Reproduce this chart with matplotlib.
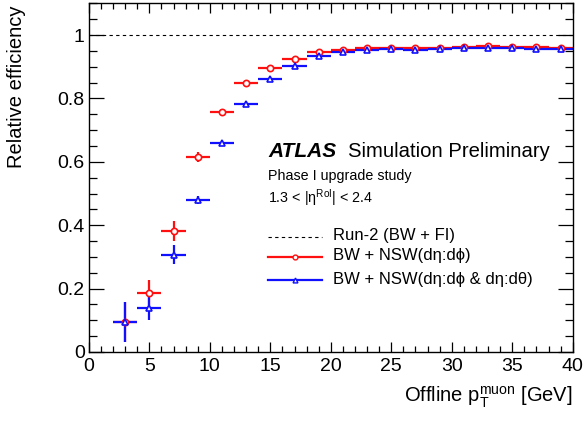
import numpy as np
import matplotlib.pyplot as plt
from matplotlib.ticker import MultipleLocator, FormatStrFormatter

plt.rcParams['font.family'] = ['Liberation Sans', 'DejaVu Sans']
plt.rcParams['mathtext.fontset'] = 'custom'
plt.rcParams['mathtext.rm'] = 'Liberation Sans'
plt.rcParams['mathtext.it'] = 'Liberation Sans:italic'

# bin centres (GeV), bin half width
pt = [3, 5, 7, 9, 11, 13, 15, 17, 19, 21, 23, 25, 27, 29, 31, 33, 35, 37, 39]
pt_err = 1.0

eff_nsw = [0.095, 0.187, 0.382, 0.614, 0.758, 0.849, 0.896, 0.926, 0.947, 0.954,
           0.960, 0.959, 0.958, 0.960, 0.962, 0.964, 0.961, 0.961, 0.960]
err_nsw = [0.063, 0.040, 0.032, 0.016, 0.008, 0.006, 0.005, 0.004, 0.004, 0.003,
           0.003, 0.003, 0.003, 0.003, 0.003, 0.003, 0.003, 0.003, 0.003]

eff_nsw_th = [0.095, 0.138, 0.306, 0.479, 0.658, 0.783, 0.862, 0.903, 0.935, 0.945,
              0.954, 0.955, 0.953, 0.956, 0.958, 0.960, 0.958, 0.957, 0.957]
err_nsw_th = [0.063, 0.036, 0.030, 0.013, 0.008, 0.006, 0.005, 0.004, 0.004, 0.003,
              0.003, 0.003, 0.003, 0.003, 0.003, 0.003, 0.003, 0.003, 0.003]

run2_level = 1.0

fig = plt.figure(figsize=(5.85, 4.22), dpi=100)
ax = fig.add_axes([0.152, 0.166, 0.827, 0.826])

ax.plot([0, 40], [run2_level, run2_level], color='black', ls=(0, (3, 3)), lw=0.8)

ax.errorbar(pt, eff_nsw, xerr=pt_err, yerr=err_nsw, fmt='o', color='#ff1010',
            mfc='white', mec='#ff1010', ms=4.5, mew=1.2, elinewidth=1.6, capsize=0)
ax.errorbar(pt, eff_nsw_th, xerr=pt_err, yerr=err_nsw_th, fmt='^', color='#1010ff',
            mfc='white', mec='#1010ff', ms=4.5, mew=1.2, elinewidth=1.6, capsize=0)

ax.set_xlim(0, 40)
ax.set_ylim(0, 1.1)
ax.xaxis.set_major_locator(MultipleLocator(5))
ax.xaxis.set_minor_locator(MultipleLocator(1))
ax.yaxis.set_major_locator(MultipleLocator(0.2))
ax.yaxis.set_minor_locator(MultipleLocator(0.05))
ax.yaxis.set_major_formatter(FormatStrFormatter('%g'))
ax.tick_params(which='both', direction='in', top=True, right=True, labelsize=14)
ax.tick_params(axis='y', which='major', length=11, width=0.9, pad=3)
ax.tick_params(axis='y', which='minor', length=5.5, width=0.9)
ax.tick_params(axis='x', which='major', length=7.5, width=0.9, pad=4.5)
ax.tick_params(axis='x', which='minor', length=4, width=0.9)
for s in ax.spines.values():
    s.set_linewidth(1.0)

ax.set_xlabel(r'Offline p$_{\mathrm{T}}^{\mathrm{muon}}$ [GeV]', loc='right', fontsize=14.5)
ax.set_ylabel('Relative efficiency', loc='top', fontsize=14.5)
ax.xaxis.set_label_coords(1.0, -0.093)
ax.yaxis.set_label_coords(-0.131, 0.995)

tx = 0.370
ax.text(tx, 0.560, 'ATLAS', transform=ax.transAxes, fontsize=15,
        fontweight='bold', fontstyle='italic')
ax.text(0.535, 0.560, 'Simulation Preliminary', transform=ax.transAxes, fontsize=14.6)
ax.text(tx, 0.494, 'Phase I upgrade study', transform=ax.transAxes, fontsize=10.3)
ax.text(tx, 0.428, r'1.3 < |$\mathrm{\eta}^{\mathrm{RoI}}$| < 2.4', transform=ax.transAxes, fontsize=10.3)

# legend
rows = [0.330, 0.273, 0.205]
labels = ['Run-2 (BW + FI)', 'BW + NSW(dη:dϕ)', 'BW + NSW(dη:dϕ & dη:dθ)']
ax.plot([tx, 0.481], [rows[0]] * 2, transform=ax.transAxes, color='black', ls=(0, (3, 3)), lw=0.8)
ax.plot([tx, 0.481], [rows[1]] * 2, transform=ax.transAxes, color='#ff1010', lw=1.6)
ax.plot([0.4255], [rows[1]], transform=ax.transAxes, marker='o', mfc='white', mec='#ff1010', ms=3.5, mew=1)
ax.plot([tx, 0.481], [rows[2]] * 2, transform=ax.transAxes, color='#1010ff', lw=1.6)
ax.plot([0.4255], [rows[2]], transform=ax.transAxes, marker='^', mfc='white', mec='#1010ff', ms=3.5, mew=1)
for y, lab in zip(rows, labels):
    ax.text(0.504, y + 0.004, lab, transform=ax.transAxes, fontsize=12, va='center')

fig.savefig('out.png', dpi=100)
